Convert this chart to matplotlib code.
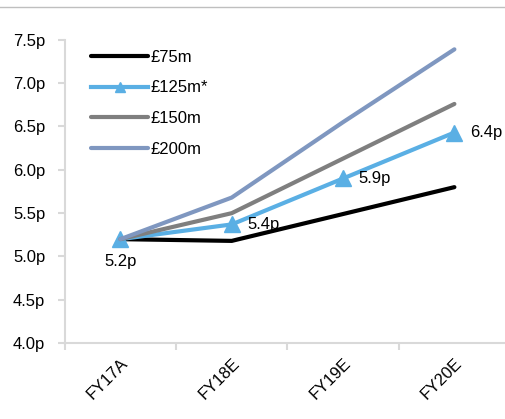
import matplotlib.pyplot as plt
from matplotlib.lines import Line2D

plt.rcParams['font.family'] = ['Liberation Sans', 'DejaVu Sans']

years = ["FY17A", "FY18E", "FY19E", "FY20E"]
s75 = [5.20, 5.18, 5.49, 5.80]
s125 = [5.20, 5.37, 5.90, 6.43]
s150 = [5.20, 5.50, 6.13, 6.76]
s200 = [5.20, 5.68, 6.55, 7.39]
labels125 = ["5.2p", "5.4p", "5.9p", "6.4p"]
yticks = [4.0, 4.5, 5.0, 5.5, 6.0, 6.5, 7.0, 7.5]

fs = 12
fig = plt.figure(figsize=(5.06, 4.19), dpi=100)
ax = fig.add_axes([0.128, 0.181, 0.88, 0.724])

x = list(range(len(years)))
ax.plot(x, s75, color="black", lw=3, label="£75m", solid_capstyle="round")
ax.plot(x, s125, color="#5aafe4", lw=3, marker="^", markersize=11, label="£125m*")
ax.plot(x, s150, color="#7f7f7f", lw=3, label="£150m", solid_capstyle="round")
ax.plot(x, s200, color="#7f97c0", lw=3, label="£200m", solid_capstyle="round")

# data labels for £125m*
ax.annotate(labels125[0], (x[0], s125[0]), xytext=(0, -11), textcoords="offset points",
            ha="center", va="top", fontsize=fs)
for i in range(1, 4):
    ax.annotate(labels125[i], (x[i], s125[i]), xytext=(11, 0), textcoords="offset points",
                ha="left", va="center", fontsize=fs)

ax.set_xlim(-0.5, 3.5)
ax.set_ylim(4.0, 7.5)
ax.set_yticks(yticks)
ax.set_yticklabels(["%.1fp" % v for v in yticks], fontsize=fs)
ax.set_xticks([i - 0.5 for i in x] + [3.5], minor=False)
ax.set_xticklabels([])
ax.set_xticks(x, minor=True)
ax.set_xticklabels(years, minor=True, rotation=45, ha="right", rotation_mode="anchor", fontsize=fs)
ax.tick_params(axis="x", which="minor", length=0, pad=9)
ax.tick_params(axis="x", which="major", length=5, color="#d9d9d9", width=1.5, direction="out")
ax.tick_params(axis="y", length=5, color="#d9d9d9", width=1.5, direction="out", pad=9)

for s in ["top", "right"]:
    ax.spines[s].set_visible(False)
for s in ["left", "bottom"]:
    ax.spines[s].set_color("#d9d9d9")
    ax.spines[s].set_linewidth(1.5)

ax.legend(loc="upper left", bbox_to_anchor=(0.045, 0.99), frameon=False, fontsize=fs,
          handlelength=3.4, handletextpad=0.15, labelspacing=0.95, borderaxespad=0.0,
          markerscale=0.6)

fig.add_artist(Line2D([0, 1], [1 - 7 / 419, 1 - 7 / 419], color="#bfbfbf", lw=1))

fig.savefig("out.png", dpi=100)
